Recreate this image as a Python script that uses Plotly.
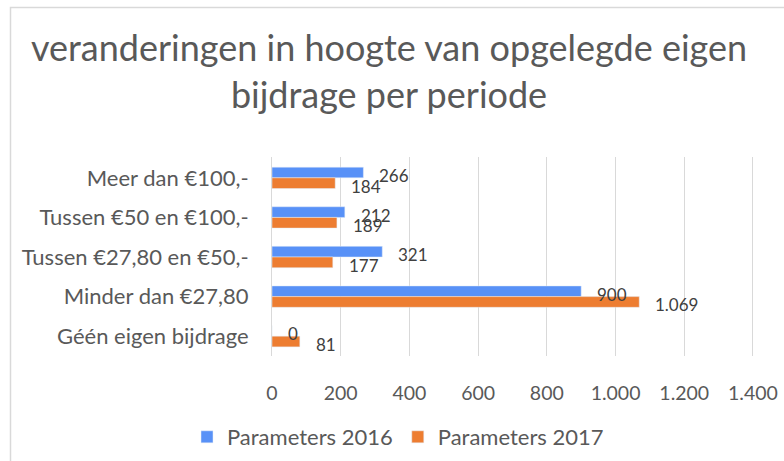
import plotly.graph_objects as go

categories = ["Meer dan €100,-", "Tussen €50 en €100,-", "Tussen €27,80 en €50,-",
              "Minder dan €27,80", "Géén eigen bijdrage"]
values_2016 = [266, 212, 321, 900, 0]
values_2017 = [184, 189, 177, 1069, 81]
series_names = ["Parameters 2016", "Parameters 2017"]
x_ticks = [0, 200, 400, 600, 800, 1000, 1200, 1400]
x_tick_labels = ["0", "200", "400", "600", "800", "1.000", "1.200", "1.400"]

FONT = "Lato, Carlito, Calibri, sans-serif"
GREY = "#595959"
BLUE = "#5891F7"
ORANGE = "#ED7D31"
BARGAP = 0.46

W, H = 784, 461
ML, MR, MT, MB = 272, 30, 157, 105
pw = W - ML - MR
ph = H - MT - MB

fig = go.Figure()
fig.add_trace(go.Bar(y=categories, x=values_2016, orientation="h", name=series_names[0],
                     marker_color=BLUE))
fig.add_trace(go.Bar(y=categories, x=values_2017, orientation="h", name=series_names[1],
                     marker_color=ORANGE))

def fmt(v):
    return f"{v:,}".replace(",", ".")

annotations = []
half = (1 - BARGAP) / 4
for i, cat in enumerate(categories):
    for vals, off in ((values_2016, -half), (values_2017, half)):
        annotations.append(dict(
            x=vals[i], y=i + off, xref="x", yref="y", text=fmt(vals[i]),
            showarrow=False, xanchor="left", yanchor="middle", xshift=14, yshift=-3,
            font=dict(family=FONT, size=17, color="#404040")))

fig.add_shape(type="rect", xref="paper", yref="paper",
              x0=(10.5 - ML) / pw, x1=(W + 10 - ML) / pw,
              y0=-(MB + 10) / ph, y1=1 + (MT - 7.5) / ph,
              line=dict(color="#D9D9D9", width=1.5), fillcolor="rgba(0,0,0,0)", layer="below")

fig.update_layout(
    width=W, height=H,
    margin=dict(l=ML, r=MR, t=MT, b=MB, autoexpand=False),
    paper_bgcolor="white", plot_bgcolor="white",
    barmode="group", bargap=BARGAP, bargroupgap=0,
    title=dict(text="veranderingen in hoogte van opgelegde eigen<br>bijdrage per periode",
               x=389 / W, xref="container", xanchor="center",
               y=1 - 61 / H, yref="container", yanchor="middle",
               font=dict(family=FONT, size=36, color=GREY)),
    xaxis=dict(range=[0, 1403], tickvals=x_ticks, ticktext=x_tick_labels,
               showgrid=True, gridcolor="#D9D9D9", gridwidth=1, zeroline=False,
               showline=False, ticks="", ticklabelstandoff=23, automargin=False,
               ticklabeloverflow="allow",
               tickfont=dict(family=FONT, size=19.5, color=GREY)),
    yaxis=dict(autorange="reversed", showgrid=False, zeroline=False,
               showline=True, linecolor="#D9D9D9", linewidth=1, automargin=False,
               ticks="", ticklabelstandoff=18,
               tickfont=dict(family=FONT, size=22, color=GREY)),
    legend=dict(orientation="h", x=(398 - ML) / pw, xanchor="center",
                y=-(437 - MT - ph) / ph, yanchor="middle",
                font=dict(family=FONT, size=22, color=GREY), itemwidth=30),
    annotations=annotations,
    showlegend=True,
)

fig.write_html("out.html", config={"displayModeBar": False},
               post_script="document.body.style.margin='0';document.body.style.overflow='hidden';")
